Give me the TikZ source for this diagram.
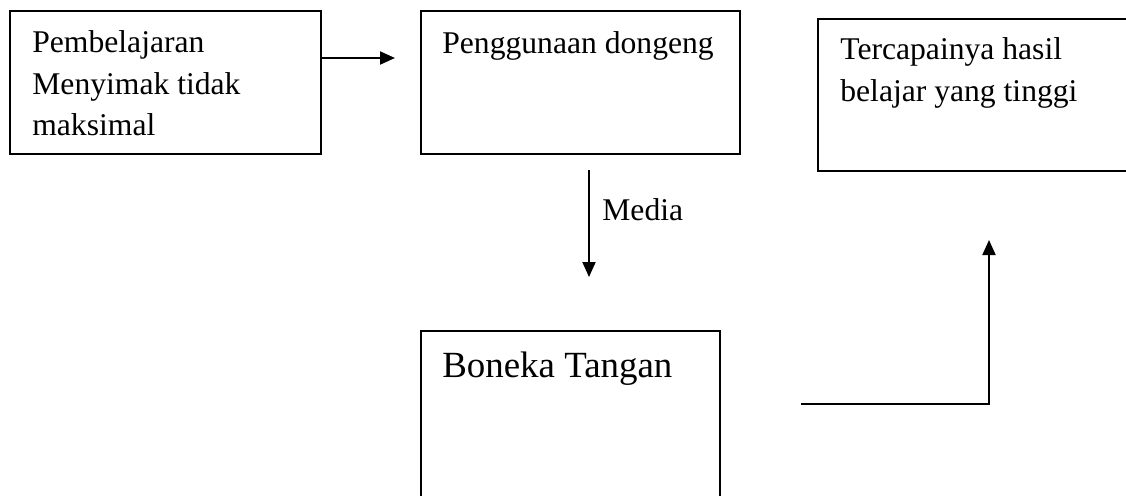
\documentclass[tikz,border=0pt]{standalone}
\usepackage{fontspec}
\setmainfont{Liberation Serif}
\usetikzlibrary{arrows.meta,fit}

\begin{document}
\begin{tikzpicture}[x=0.02cm,y=-0.02cm]
\tikzstyle{box} = [draw, line width=1.1pt, rectangle, inner sep=0pt]
\tikzstyle{txt} = [inner sep=0pt, align=left, font=\fontsize{18}{23.8}\selectfont]
\tikzstyle{arr} = [line width=1.1pt, -{Triangle[length=0.3cm,width=0.26cm]}]
\clip (0,0) rectangle (1126,495);

\node[box, fit={(10,11) (321,154)}] (pembelajaran) {};
\node[box, fit={(421,11) (740,154)}] (dongeng) {};
\node[box, fit={(818,19) (1140,171)}] (hasil) {};
\node[box, fit={(421,331) (720,540)}] (boneka) {};

\node[txt, anchor=north west] (pembelajaranT) at (32,30) {Pembelajaran\\Menyimak tidak\\maksimal};
\node[txt, anchor=base west] (dongengT) at (442,53) {Penggunaan dongeng};
\node[txt, anchor=north west] (hasilT) at (840,37) {Tercapainya hasil\\belajar yang tinggi};
\node[txt, anchor=base west, font=\fontsize{21}{25}\selectfont] (bonekaT) at (442,377) {Boneka Tangan};
\node[txt, anchor=base west] (media) at (602,220) {Media};

\coordinate (p1) at (395,58);
\coordinate (m1) at (589,170);
\coordinate (m2) at (589,277);
\coordinate (e1) at (801,404);
\coordinate (e2) at (989,240);

\draw [arr] (pembelajaran.east |- p1) -- (p1);
\draw [arr] (m1) -- (m2);
\draw [arr] (e1) -| (e2);
\end{tikzpicture}
\end{document}
